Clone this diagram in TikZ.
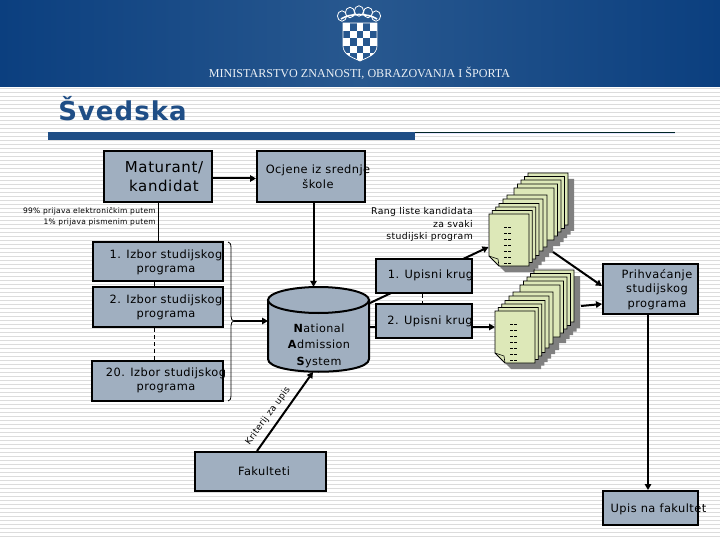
\documentclass[tikz,border=0pt]{standalone}
\usepackage{fontspec}
\setmainfont[LetterSpace=4]{DejaVu Sans}
\newfontfamily\hdrfont{Liberation Serif}
\usetikzlibrary{arrows.meta,calc}
\definecolor{hdredge}{HTML}{0B3F7F}
\definecolor{hdrmid}{HTML}{28588F}
\definecolor{titleblue}{HTML}{1F4E86}
\definecolor{boxfill}{HTML}{A0AFC0}
\definecolor{pagefill}{HTML}{DDE8B8}
\definecolor{stripe}{HTML}{DCDCDC}
\tikzset{
  boxn/.style={draw=black,line width=2pt,fill=boxfill,inner sep=0pt},
  lbl/.style={inner sep=0pt,align=center,font=\fontsize{11.4}{14.6}\selectfont},
  conn/.style={line width=2pt,-{Triangle[length=6pt,width=6.5pt]}},
  plainconn/.style={line width=1pt},
  dashconn/.style={line width=1pt,dash pattern=on 4pt off 3pt},
  pagesh/.style={fill=black!50,draw=none},
  pagen/.style={fill=pagefill,draw=black,line width=.8pt}
}
% #1,#2 = top-left corner of a page
\newcommand{\pageoutline}[2]{(#1,#2) -- ++(40,0) -- ++(0,52) -- ++(-30,0) -- ++(-10,-10) -- cycle}
\newcommand{\docstack}[2]{%
  \foreach \o/\v in {39/41,35.5/37.5,32/34,28.5/30,25/26,18/19,14/15,10/10.5,6.7/7,3.3/3.5,0/0}{
    \fill[pagesh] \pageoutline{#1+\o+6}{#2-\v+6};
  }
  \foreach \o/\v in {39/41,35.5/37.5,32/34,28.5/30,25/26,18/19,14/15,10/10.5,6.7/7,3.3/3.5,0/0}{
    \draw[pagen] \pageoutline{#1+\o}{#2-\v};
    \draw[line width=.6pt] ({#1+\o},{#2-\v+42}) -- ({#1+\o+9},{#2-\v+45}) -- ({#1+\o+10},{#2-\v+52});
  }
  \foreach \r in {0,...,6}{
    \draw[line width=.8pt] ({#1+15},{#2+13+6*\r}) -- ++(2.5,0) ({#1+19},{#2+13+6*\r}) -- ++(2.5,0);
  }
}
\begin{document}
\begin{tikzpicture}[x=1pt,y=-1pt]
\useasboundingbox (0,0) rectangle (720,540);
\fill[white] (0,0) rectangle (720,540);
\foreach \y in {88.5,92.5,...,540}{\draw[stripe,line width=1.3pt] (0,\y) -- (720,\y);}
% header
\shade[left color=hdredge,right color=hdredge,middle color=hdrmid] (0,0) rectangle (720,87);
% crest
\foreach \cx/\cy in {342/16,350/12.5,359/11,368/12.5,376/16}{
  \draw[white,line width=.8pt,fill=hdrmid] (\cx,\cy) ellipse [x radius=4.6pt,y radius=5.2pt];
}
\draw[white,line width=1.6pt] (341,19) .. controls (350,13) and (368,13) .. (377,19);
\begin{scope}
  \clip (343,23) -- (377,23) -- (377,46) .. controls (377,55) and (366,58) .. (360,61) .. controls (354,58) and (343,55) .. (343,46) -- cycle;
  \foreach \c/\r in {0/0,2/0,4/0,1/1,3/1,0/2,2/2,4/2,1/3,3/3,0/4,2/4,4/4}{
    \fill[white] ({343+6.8*\c},{23+7.6*\r}) rectangle ++(6.8,7.6);
  }
\end{scope}
\draw[white,line width=.7pt] (343,23) -- (377,23) -- (377,46) .. controls (377,55) and (366,58) .. (360,61) .. controls (354,58) and (343,55) .. (343,46) -- cycle;
\node[inner sep=0pt,text=white!92!hdredge,font=\hdrfont\fontsize{12.1}{13}\selectfont] (hdr) at (359.5,73.5) {MINISTARSTVO ZNANOSTI, OBRAZOVANJA I ŠPORTA};
% title
\node[inner sep=0pt,text=titleblue,font=\bfseries\fontsize{26}{30}\selectfont] (title) at (122.5,109) {Švedska};
\fill[titleblue] (48,132) rectangle (415,140);
\draw[black!70!teal,line width=1pt] (415,132.5) -- (675,132.5);
\draw[blue!10,line width=1pt] (415,133.8) -- (675,133.8);
% stacks
\docstack{489}{214}
\docstack{495}{311}
\coordinate (s1in) at (488.5,247);
\coordinate (s1out) at (553,252);
\coordinate (s2in) at (495,327);
\coordinate (s2out) at (581,306);
% hidden anchors
\node[inner sep=0pt,minimum width=101pt,minimum height=85pt] (cyl) at (318.5,329.5) {};
\coordinate (cylr1) at (370,303);
\coordinate (cylr2) at (369,327);
\coordinate (brT) at (228,242);
\coordinate (brB) at (228,401);
\coordinate (brTip) at (234,321);
\coordinate (cylL) at (268,321);
\coordinate (vO) at (313.5,0);
\coordinate (vI) at (154.5,0);
\coordinate (vU) at (422,0);
\coordinate (vP) at (648,0);
\coordinate (hM) at (0,178.5);
\coordinate (cylT) at (257,452);
\coordinate (cylB) at (313,372);
% boxes (positions)
\node[boxn,minimum width=108pt,minimum height=51pt] (mat) at (158,176.5) {};
\node[boxn,minimum width=108pt,minimum height=51pt] (ocj) at (311,176.5) {};
\node[boxn,minimum width=130pt,minimum height=39pt] (iz1) at (158,261.5) {};
\node[boxn,minimum width=130pt,minimum height=40pt] (iz2) at (158,307) {};
\node[boxn,minimum width=131pt,minimum height=40pt] (iz20) at (157.5,381) {};
\node[boxn,minimum width=131pt,minimum height=39pt] (fak) at (260.5,471.5) {};
\node[boxn,minimum width=95pt,minimum height=50pt] (pri) at (650.5,289) {};
\node[boxn,minimum width=95pt,minimum height=34pt] (upi) at (650.5,508) {};
% connectors under the round boxes
\draw[conn] (cylr1) -- (s1in);
\draw[conn] (cylr2) -- (s2in);
\node[boxn,minimum width=96pt,minimum height=34pt] (up1) at (424,276) {};
\node[boxn,minimum width=96pt,minimum height=34pt] (up2) at (424,321) {};
\draw[conn] (mat.east |- hM) -- (ocj.west |- hM);
\draw[plainconn] (mat.south) -- (iz1.north);
\draw[plainconn] (iz1.south -| vI) -- (iz2.north -| vI);
\draw[dashconn] (iz2.south -| vI) -- (iz20.north -| vI);
\draw[dashconn] (up1.south -| vU) -- (up2.north -| vU);
\draw[line width=.8pt] (brT) .. controls (230,242) and (231,244) .. (231,248) -- (231,316) .. controls (231,319) and (232,321) .. (brTip) .. controls (232,321) and (231,323) .. (231,326) -- (231,395) .. controls (231,399) and (230,401) .. (brB);
% cylinder
\draw[line width=2pt,fill=boxfill] (268,300) -- (268,359) .. controls (268,376) and (369,376) .. (369,359) -- (369,300) -- cycle;
\draw[line width=2pt,fill=boxfill] (318.5,300) ellipse [x radius=50.5pt,y radius=13pt];
\draw[conn] (brTip) -- (cylL);
\draw[conn] (ocj.south -| vO) -- (cyl.north -| vO);
\draw[conn] (fak.north -| cylT) -- (cylB);
\draw[conn] (s1out) -- (pri.west |- 0,286);
\draw[conn] (s2out) -- (pri.west |- 0,304);
\draw[conn] (pri.south -| vP) -- (upi.north -| vP);
% labels
\node[lbl,font=\fontsize{15}{19}\selectfont] (tmat) at (164,176.5) {Maturant/\\kandidat};
\node[lbl] (tocj) at (318,177) {Ocjene iz srednje\\škole};
\node[lbl] (tiz1) at (166,262.5) {1. Izbor studijskog\\programa};
\node[lbl] (tiz2) at (166,307.5) {2. Izbor studijskog\\programa};
\node[lbl] (tiz20) at (166,380.5) {20. Izbor studijskog\\programa};
\node[lbl] (tup1) at (430.5,275) {1. Upisni krug};
\node[lbl] (tup2) at (430,321) {2. Upisni krug};
\node[lbl] (tpri) at (657,289.5) {Prihvaćanje\\studijskog\\programa};
\node[lbl] (tfak) at (264,471) {Fakulteti};
\node[lbl] (tupi) at (658.5,509) {Upis na fakultet};
\node[lbl,font=\fontsize{11.2}{16.5}\selectfont] (tnas) at (319,345.5) {\textbf{N}ational\\\textbf{A}dmission\\\textbf{S}ystem};
\node[inner sep=0pt,align=right,anchor=east,font=\fontsize{7.5}{11}\selectfont] (tpct) at (156,216.5) {99\% prijava elektroničkim putem\\1\% prijava pismenim putem};
\node[inner sep=0pt,align=right,anchor=east,font=\fontsize{9.3}{12.5}\selectfont] (trang) at (473,224.5) {Rang liste kandidata\\za svaki\ \\studijski program};
\node[inner sep=0pt,rotate=54,font=\fontsize{9}{10}\selectfont] (tkrit) at (268,416) {Kriterij za upis};
\end{tikzpicture}
\end{document}
